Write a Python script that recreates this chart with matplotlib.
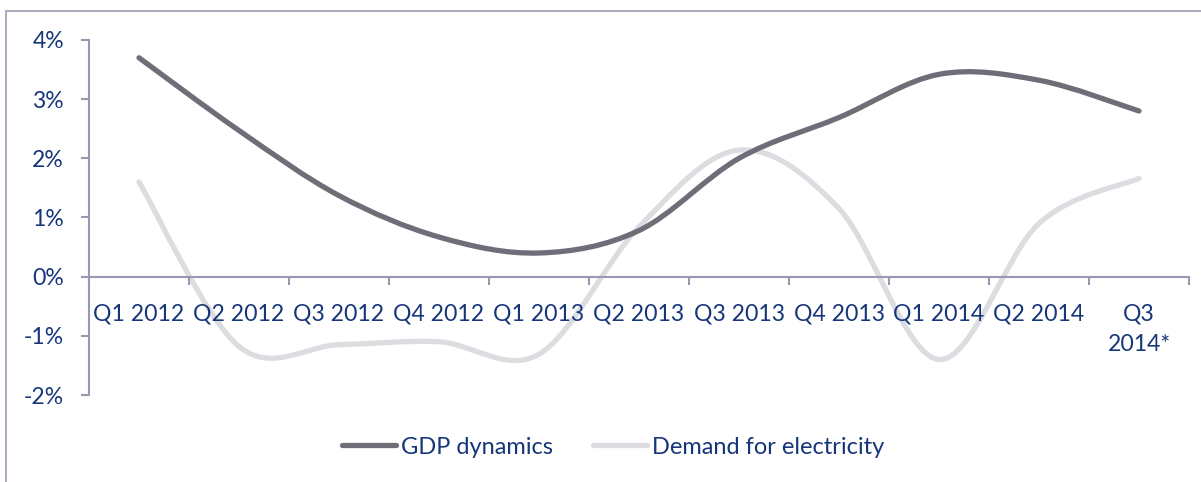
import numpy as np
import matplotlib
matplotlib.use("Agg")
import matplotlib.pyplot as plt
from matplotlib.patches import Rectangle
from matplotlib.path import Path
from matplotlib.patches import PathPatch

# Quarterly data (% change)
categories = ["Q1 2012", "Q2 2012", "Q3 2012", "Q4 2012", "Q1 2013", "Q2 2013",
              "Q3 2013", "Q4 2013", "Q1 2014", "Q2 2014", "Q3\n2014*"]
gdp_dynamics = [3.70, 2.47, 1.37, 0.67, 0.40, 0.78, 2.00, 2.69, 3.42, 3.32, 2.80]
electricity_demand = [1.60, -1.18, -1.15, -1.10, -1.31, 0.84, 2.14, 1.15, -1.40, 0.90, 1.66]
y_ticks = [-2, -1, 0, 1, 2, 3, 4]
y_tick_labels = ["-2%", "-1%", "0%", "1%", "2%", "3%", "4%"]

NAVY = "#17367A"
AXIS = "#9898B0"
GDP_COLOR = "#6D6E78"
ELEC_COLOR = "#DCDDE1"
FS = 16.6

plt.rcParams["font.family"] = ["Lato", "DejaVu Sans"]


def smooth_path(xs, ys):
    """Cubic Bezier through the points with Catmull-Rom style tangents."""
    pts = np.column_stack([xs, ys]).astype(float)
    n = len(pts)
    verts = [pts[0]]
    codes = [Path.MOVETO]
    for i in range(n - 1):
        p0 = pts[i - 1] if i > 0 else pts[i]
        p1 = pts[i]
        p2 = pts[i + 1]
        p3 = pts[i + 2] if i + 2 < n else pts[i + 1]
        c1 = p1 + (p2 - p0) / 6.0
        c2 = p2 - (p3 - p1) / 6.0
        verts += [c1, c2, p2]
        codes += [Path.CURVE4] * 3
    return Path(verts, codes)


W, H = 1201, 482
fig = plt.figure(figsize=(W / 100, H / 100), dpi=100)
ax = fig.add_axes([89 / W, 87 / H, 1100 / W, 355 / H])
ax.set_axisbelow(False)

x = np.arange(len(categories))
for series, color, z in [(electricity_demand, ELEC_COLOR, 2.0), (gdp_dynamics, GDP_COLOR, 2.1)]:
    patch = PathPatch(smooth_path(x, series), facecolor="none", edgecolor=color,
                      lw=3.8, capstyle="round", joinstyle="round", zorder=z)
    ax.add_patch(patch)

ax.set_xlim(-0.5, len(categories) - 0.5)
ax.set_ylim(-2, 4)

for s in ["top", "right"]:
    ax.spines[s].set_visible(False)
ax.spines["left"].set_color(AXIS)
ax.spines["left"].set_linewidth(1.5)
ax.spines["bottom"].set_color(AXIS)
ax.spines["bottom"].set_linewidth(1.5)
ax.spines["bottom"].set_position(("data", 0))

ax.set_yticks(y_ticks)
ax.set_yticklabels(y_tick_labels)
ax.tick_params(axis="y", direction="out", length=6, width=1.5, color=AXIS,
               labelcolor=NAVY, labelsize=FS, pad=12)

ax.set_xticks(np.arange(-0.5, len(categories), 1.0))
ax.set_xticklabels([])
ax.tick_params(axis="x", which="major", direction="out", length=6, width=1.5, color=AXIS)
ax.set_xticks(x, minor=True)
ax.set_xticklabels(categories, minor=True, linespacing=1.6)
ax.tick_params(axis="x", which="minor", length=0, labelcolor=NAVY, labelsize=FS, pad=19)
for lbl in ax.get_xticklabels(minor=True):
    lbl.set_verticalalignment("top")

handles = [plt.Line2D([], [], color=GDP_COLOR, lw=3.8, solid_capstyle="round"),
           plt.Line2D([], [], color=ELEC_COLOR, lw=3.8, solid_capstyle="round")]
leg = fig.legend(handles, ["GDP dynamics", "Demand for electricity"],
                 loc="center", bbox_to_anchor=(613 / W, 1 - 447 / H), ncol=2,
                 frameon=False, fontsize=FS + 0.4, handlelength=2.3, handletextpad=0.2,
                 columnspacing=1.7, labelcolor=NAVY)

# outer chart frame
fig.patches.append(Rectangle((6 / W, -0.05), 1.2, 1 - 11 / H + 0.05,
                             transform=fig.transFigure, fill=False,
                             edgecolor="#A2A2B8", lw=1.3))

fig.savefig("out.png", dpi=100)
